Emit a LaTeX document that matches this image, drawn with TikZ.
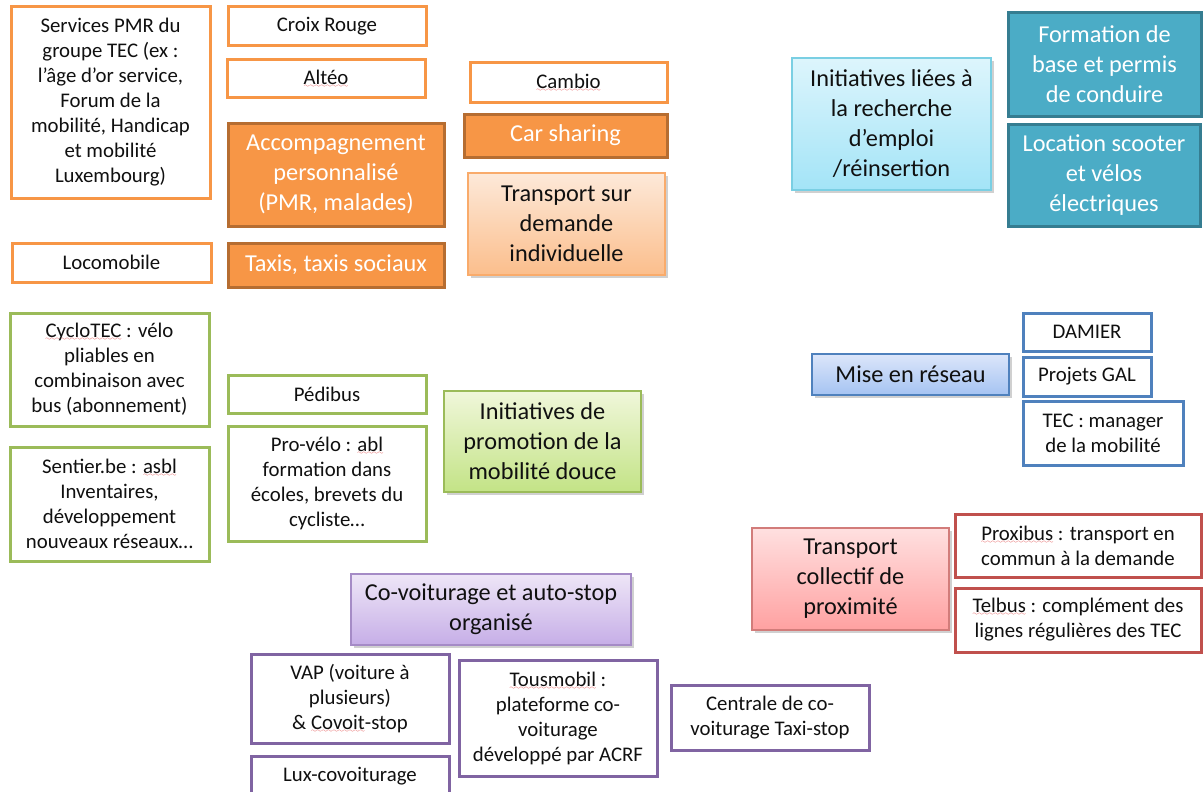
\documentclass[tikz,border=0pt]{standalone}
\usepackage{fontspec}
\setmainfont{Carlito}
\usetikzlibrary{shadows}
\font\mywavefont=lasy6
\definecolor{spellred}{HTML}{E03030}
\newcommand\spell[1]{\setbox0\hbox{#1}\rlap{\textcolor{spellred}{\lower3pt\hbox to\wd0{\xleaders\hbox{\mywavefont\char58}\hfill}}}\box0\relax}
\definecolor{cOr}{HTML}{F79646}
\definecolor{cOrD}{HTML}{B66D31}
\definecolor{cOrT}{HTML}{FDE9D9}
\definecolor{cOrB}{HTML}{FBBE8C}
\definecolor{cTeal}{HTML}{4BACC6}
\definecolor{cTealD}{HTML}{357D91}
\definecolor{cCyT}{HTML}{DDF5FC}
\definecolor{cCyB}{HTML}{A3E4F7}
\definecolor{cCyL}{HTML}{7ACFE3}
\definecolor{cGr}{HTML}{9BBB59}
\definecolor{cGrT}{HTML}{F0F7DA}
\definecolor{cGrB}{HTML}{C3E386}
\definecolor{cBl}{HTML}{4F81BD}
\definecolor{cBlT}{HTML}{DCE6FA}
\definecolor{cBlB}{HTML}{A5C3F2}
\definecolor{cRd}{HTML}{C0504D}
\definecolor{cRdT}{HTML}{FFE0E0}
\definecolor{cRdB}{HTML}{FFA1A1}
\definecolor{cRdL}{HTML}{D27C7A}
\definecolor{cPu}{HTML}{8064A2}
\definecolor{cPuT}{HTML}{EEE6F7}
\definecolor{cPuB}{HTML}{C6AEE7}
\definecolor{cPuL}{HTML}{A58BC6}
\definecolor{txt}{HTML}{101010}
\tikzset{
  sm/.style={font=\fontsize{20.8}{25}\selectfont},
  lg/.style={font=\fontsize{24.3}{30}\selectfont},
  wbox/.style={draw=#1, line width=3pt, fill=white, inner sep=0pt, align=center, text=txt, sm},
  fbox/.style 2 args={draw=#2, fill=#1, line width=3pt, text=white, inner sep=0pt, align=center, lg},
  gbox/.style n args={3}{draw=#3, line width=1.3pt, top color=#1, bottom color=#2, inner sep=0pt,
    align=center, text=txt, lg,
    drop shadow={shadow xshift=2.5pt, shadow yshift=-3pt, opacity=0.3, fill=black!60}},
}
\begin{document}
\begin{tikzpicture}[x=1pt,y=-1pt]
\useasboundingbox[fill=white] (0,0) rectangle (1203,792);

% orange group
\node[wbox=cOr, minimum width=199, minimum height=191] (pmr) at (110.5,102.5)
  {Services PMR du\\groupe TEC (ex :\\l’âge d’or service,\\Forum de la\\mobilité, Handicap\\et mobilité\\Luxembourg)};
\node[wbox=cOr, minimum width=198, minimum height=39] (croix) at (327,26.5) {Croix Rouge};
\node[wbox=cOr, minimum width=198, minimum height=38] (alteo) at (326,79) {\spell{Altéo}};
\node[fbox={cOr}{cOrD}, minimum width=216, minimum height=103] (accomp) at (336,174.5)
  {Accompagnement\\personnalisé\\(PMR, malades)};
\node[wbox=cOr, minimum width=199, minimum height=39] (loco) at (111.5,262.5) {Locomobile};
\node[fbox={cOr}{cOrD}, minimum width=216, minimum height=44] (taxis) at (336,265) {Taxis, taxis sociaux};
\node[wbox=cOr, minimum width=197, minimum height=40] (cambio) at (568.5,83) {\spell{Cambio}};
\node[fbox={cOr}{cOrD}, minimum width=203, minimum height=43] (car) at (565.5,135.5) {Car sharing};
\node[gbox={cOrT}{cOrB}{cOr!80}, minimum width=197, minimum height=102] (tsd) at (566.5,224)
  {Transport sur\\demande\\individuelle};

% teal group
\node[gbox={cCyT}{cCyB}{cCyL}, minimum width=199, minimum height=132] (emploi) at (891.5,124)
  {Initiatives liées à\\la recherche\\d’emploi\\/réinsertion};
\node[fbox={cTeal}{cTealD}, minimum width=193, minimum height=103] (formation) at (1104.5,64.5)
  {Formation de\\base et permis\\de conduire};
\node[fbox={cTeal}{cTealD}, minimum width=192, minimum height=102] (location) at (1104,175)
  {Location scooter\\et vélos\\électriques};

% green group
\node[wbox=cGr, minimum width=199, minimum height=113] (cyclo) at (109.5,369.5)
  {\spell{CycloTEC} : vélo\\pliables en\\combinaison avec\\bus (abonnement)};
\node[wbox=cGr, minimum width=199, minimum height=114] (sentier) at (109.5,504)
  {Sentier.be : \spell{asbl}\\Inventaires,\\développement\\nouveaux réseaux…};
\node[wbox=cGr, minimum width=198, minimum height=38] (pedibus) at (327,394) {Pédibus};
\node[wbox=cGr, minimum width=198, minimum height=115] (provelo) at (327,483.5)
  {Pro-vélo : \spell{abl}\\formation dans\\écoles, brevets du\\cycliste…};
\node[gbox={cGrT}{cGrB}{cGr}, minimum width=197, minimum height=101] (initmob) at (542.5,441.5)
  {Initiatives de\\promotion de la\\mobilité douce};

% blue group
\node[gbox={cBlT}{cBlB}{cBl}, minimum width=197, minimum height=41] (reseau) at (910.5,374.5) {Mise en réseau};
\node[wbox=cBl, minimum width=128, minimum height=38] (damier) at (1087,332) {DAMIER};
\node[wbox=cBl, minimum width=128, minimum height=39] (gal) at (1087,376.5) {Projets GAL};
\node[wbox=cBl, minimum width=160, minimum height=64] (tecman) at (1103,433)
  {TEC : manager\\de la mobilité};

% red group
\node[gbox={cRdT}{cRdB}{cRdL}, minimum width=197, minimum height=102] (tcp) at (850.5,579)
  {Transport\\collectif de\\proximité};
\node[wbox=cRd, minimum width=246, minimum height=63] (proxibus) at (1078,545.5)
  {\spell{Proxibus} : transport en\\commun à la demande};
\node[wbox=cRd, minimum width=246, minimum height=64] (telbus) at (1078,620)
  {\spell{Telbus} : complément des\\lignes régulières des TEC};

% purple group
\node[gbox={cPuT}{cPuB}{cPuL}, minimum width=280, minimum height=71] (covoit) at (491,609.5)
  {Co-voiturage et auto-stop\\organisé};
\node[wbox=cPu, minimum width=198, minimum height=89] (vap) at (350,698.5)
  {VAP (voiture à\\plusieurs)\\\& \spell{Covoit}-stop};
\node[wbox=cPu, minimum width=198, minimum height=116] (tousmobil) at (558,718)
  {\spell{Tousmobil} :\\plateforme co-\\voiturage\\développé par ACRF};
\node[wbox=cPu, minimum width=198, minimum height=65] (centrale) at (770,717.5)
  {Centrale de co-\\voiturage Taxi-stop};
\node[wbox=cPu, minimum width=198, minimum height=40] (lux) at (350,776) {Lux-covoiturage};
\end{tikzpicture}
\end{document}
